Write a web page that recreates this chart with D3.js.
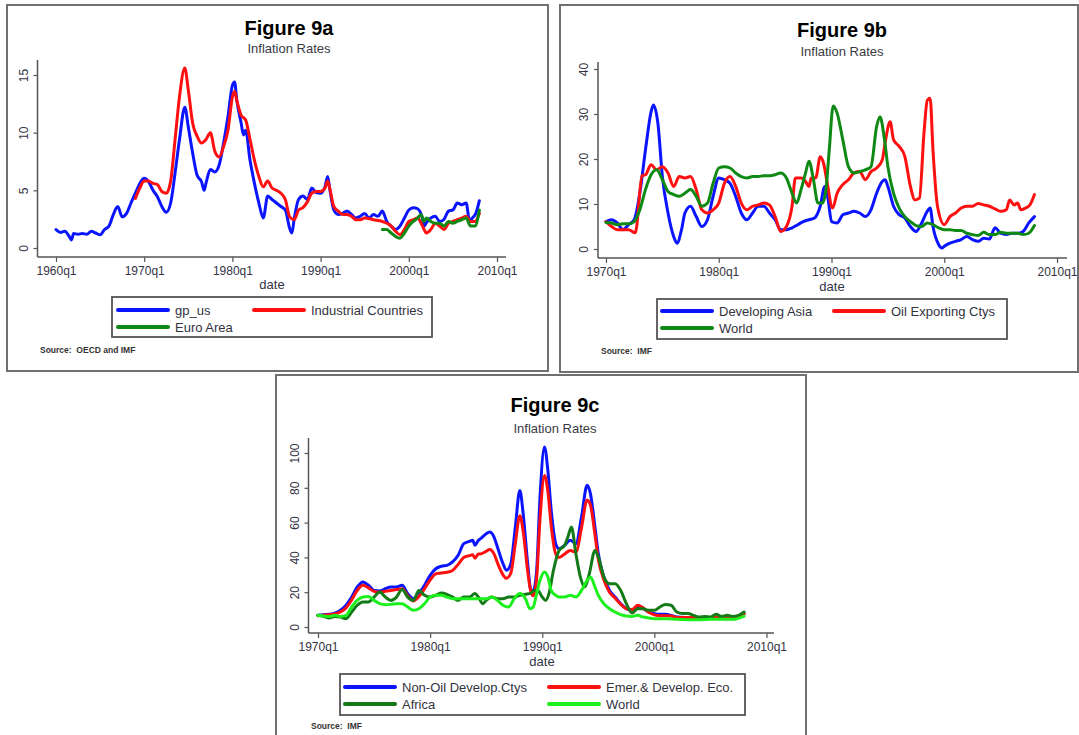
<!DOCTYPE html>
<html>
<head>
<meta charset="utf-8">
<script src="https://cdn.jsdelivr.net/npm/d3@7"></script>
<style>
  body { margin: 0; background: #ffffff; }
  svg { display: block; font-family: Arial, "Liberation Sans", sans-serif; }
</style>
</head>
<body>
<svg id="chart" width="1079" height="735"></svg>
<script>
// ---------- Figure 9a: quarterly inflation rates (date, percent) ----------
const gpUs = [[1960,1.6],[1960.5,1.35],[1961,1.45],[1961.5,1.0],[1961.75,0.7],[1962,1.25],[1962.5,1.2],[1963,1.25],[1963.5,1.2],[1964,1.45],[1964.5,1.3],[1965,1.15],[1965.5,1.6],[1966,1.9],[1966.5,2.9],[1967,3.6],[1967.5,2.7],[1968,3.0],[1968.5,3.9],[1969,4.75],[1969.5,5.6],[1970,6.05],[1970.5,5.75],[1971,5.0],[1971.5,4.45],[1972,3.6],[1972.5,3.1],[1973,3.9],[1973.5,6.5],[1974,9.4],[1974.6,12.2],[1975,10.5],[1975.5,8.2],[1976,6.3],[1976.5,5.75],[1976.8,5.0],[1977,5.6],[1977.5,6.8],[1978,6.6],[1978.5,7.2],[1979,9.1],[1979.5,11.4],[1980,14.1],[1980.25,14.4],[1980.5,12.8],[1981,10.8],[1981.25,9.8],[1981.5,10.2],[1982,7.6],[1982.5,5.6],[1983,3.9],[1983.5,2.6],[1984,4.5],[1984.5,4.2],[1985,3.9],[1985.5,3.6],[1986,3.3],[1986.5,1.7],[1986.75,1.3],[1987,2.5],[1987.5,4.2],[1988,4.5],[1988.5,4.2],[1989,5.2],[1989.5,4.8],[1990,4.75],[1990.5,5.3],[1990.8,6.2],[1991,5.3],[1991.5,3.3],[1992,2.9],[1992.5,3.0],[1993,3.2],[1993.5,2.9],[1994,2.6],[1994.5,2.75],[1995,3.0],[1995.5,2.6],[1996,2.9],[1996.5,2.75],[1997,3.2],[1997.5,2.3],[1998,1.9],[1998.5,1.6],[1999,1.9],[1999.5,2.6],[2000,3.3],[2000.5,3.5],[2001,3.4],[2001.5,2.7],[2001.75,1.9],[2002,2.2],[2002.5,2.6],[2003,2.75],[2003.5,2.3],[2004,2.5],[2004.5,3.2],[2005,3.3],[2005.5,3.9],[2006,3.75],[2006.5,3.9],[2006.9,2.3],[2007.2,2.6],[2007.6,3.0],[2008,4.1]];

const industrialCountries = [[1969,4.3],[1969.5,5.2],[1970,5.8],[1970.5,5.8],[1971,5.6],[1971.5,5.5],[1972,4.9],[1972.5,4.75],[1973,5.8],[1973.5,9.4],[1974,13.1],[1974.6,15.6],[1975,13.7],[1975.5,10.8],[1976,9.7],[1976.5,9.1],[1977,9.4],[1977.5,10.0],[1978,8.4],[1978.5,7.9],[1979,8.8],[1979.5,10.2],[1980,13.1],[1980.25,13.6],[1980.5,12.8],[1981,11.5],[1981.5,11.1],[1982,9.4],[1982.5,7.6],[1983,6.2],[1983.5,5.3],[1984,5.8],[1984.5,5.2],[1985,5.0],[1985.5,4.75],[1986,4.2],[1986.5,2.7],[1987,2.45],[1987.5,3.3],[1988,3.5],[1988.5,4.0],[1989,4.75],[1989.5,4.9],[1990,4.9],[1990.5,5.2],[1990.8,5.8],[1991,5.3],[1991.5,3.6],[1992,3.2],[1992.5,2.9],[1993,2.9],[1993.5,2.75],[1994,2.45],[1994.5,2.45],[1995,2.6],[1996,2.45],[1997,2.3],[1998,1.9],[1998.5,1.45],[1999,1.15],[1999.5,1.6],[2000,2.3],[2000.5,2.45],[2001,2.6],[2001.5,2.0],[2002,1.3],[2002.5,1.6],[2003,2.15],[2003.5,1.9],[2004,1.6],[2004.5,2.15],[2005,2.3],[2005.5,2.45],[2006,2.6],[2006.5,2.75],[2007,2.3],[2007.5,2.3],[2008,3.0]];

const euroArea = [[1997,1.6],[1997.5,1.6],[1998,1.3],[1998.5,1.0],[1999,0.85],[1999.5,1.3],[2000,1.9],[2000.5,2.3],[2001,2.6],[2001.4,2.9],[2001.7,2.3],[2002,2.6],[2002.5,2.3],[2003,2.15],[2003.5,2.15],[2004,1.9],[2004.5,2.3],[2005,2.15],[2005.5,2.3],[2006,2.45],[2006.5,2.6],[2007,1.9],[2007.5,1.9],[2008,3.3]];

// ---------- Figure 9b ----------
const developingAsia = [[1970,6.1],[1970.5,6.5],[1971,5.8],[1971.5,4.3],[1972,5.4],[1972.5,6.5],[1973,12.4],[1973.5,22],[1974,30.5],[1974.2,32],[1974.6,28],[1975,16.1],[1975.5,8],[1976,2.8],[1976.3,1.3],[1976.7,4.3],[1977,8],[1977.5,9.5],[1978,7.2],[1978.5,5],[1979,6.5],[1979.5,11.7],[1980,15.8],[1980.5,15.4],[1981,14.6],[1981.5,11.7],[1982,8],[1982.5,6.5],[1983,8],[1983.5,9.5],[1984,9.5],[1984.5,8],[1985,6.5],[1985.5,4.3],[1986,4.3],[1986.5,4.7],[1987,5.4],[1987.5,6.1],[1988,6.5],[1988.5,6.9],[1989,9.5],[1989.4,13.9],[1989.7,11],[1990,6.1],[1990.5,5.8],[1991,7.6],[1991.5,8],[1992,8.4],[1992.5,8],[1993,7.2],[1993.5,8.7],[1994,12.4],[1994.5,15],[1994.75,15.4],[1995,13.9],[1995.5,9.5],[1996,7.6],[1996.5,6.9],[1997,5],[1997.5,3.9],[1998,5.8],[1998.5,8.4],[1998.75,9.1],[1999,5],[1999.5,1],[1999.8,0.2],[2000,0.6],[2000.5,1.3],[2001,1.7],[2001.5,2.1],[2002,2.8],[2002.5,2.1],[2003,1.7],[2003.5,2.4],[2004,2.2],[2004.5,4.7],[2005,3.5],[2005.5,3.2],[2006,3.5],[2006.5,3.5],[2007,3.9],[2007.5,5.8],[2008,7.2]];

const oilExportingCtys = [[1970,6.1],[1970.5,5],[1971,4.3],[1971.5,4.3],[1972,4.3],[1972.6,3.6],[1973.2,16.3],[1973.5,16.5],[1974,18.7],[1974.5,17.6],[1975,18.3],[1975.5,16.9],[1976,13.9],[1976.5,16.1],[1977,15.8],[1977.5,16.1],[1978,13.2],[1978.5,8.7],[1979,8],[1979.5,8.7],[1980,10.2],[1980.5,14.6],[1981,16.1],[1981.5,13.9],[1982,10.2],[1982.5,8.7],[1983,9.5],[1983.5,9.8],[1984,10.2],[1984.5,9.8],[1985,7.2],[1985.5,3.9],[1986,5],[1986.5,9.5],[1986.8,15.8],[1987.3,15.8],[1987.7,15],[1988,13.9],[1988.2,15.8],[1988.6,15.8],[1989,20.5],[1989.3,19],[1989.6,15],[1990.1,9.1],[1990.5,12.4],[1991,14.3],[1991.5,15.4],[1992,16.9],[1992.5,17.2],[1993,15.4],[1993.5,17.2],[1994,18],[1994.5,19.8],[1994.8,24.3],[1995.2,28.3],[1995.5,24.3],[1996,22.8],[1996.5,20.6],[1997,13.9],[1997.4,10.9],[1997.8,11.3],[1998.2,25.7],[1998.5,33.1],[1998.75,33.5],[1999,22],[1999.4,9.5],[2000,5.4],[2000.5,7.2],[2001,8],[2001.5,9.1],[2002,9.5],[2002.5,9.5],[2003,10.1],[2003.5,9.8],[2004,9.5],[2004.5,8.9],[2005,8.4],[2005.5,8.7],[2005.8,10.9],[2006.2,9.8],[2006.5,10.2],[2006.8,8.7],[2007.2,9.1],[2007.6,9.8],[2008,12.1]];

const worldB = [[1970,5.9],[1970.5,5.8],[1971,5.4],[1971.5,5.6],[1972,5.6],[1972.5,6.1],[1973,8.7],[1973.5,13.2],[1974,16.5],[1974.5,17.6],[1975,15.4],[1975.5,12.8],[1976,12.1],[1976.5,11.7],[1977,12.4],[1977.5,13.2],[1978,11.7],[1978.5,9.5],[1979,10.2],[1979.5,14.6],[1980,18],[1980.5,18.3],[1981,18],[1981.5,16.9],[1982,16.1],[1982.5,15.8],[1983,16.1],[1983.5,16.1],[1984,16.3],[1984.5,16.3],[1985,16.5],[1985.5,16.9],[1986,15.8],[1986.5,12.4],[1986.9,10.2],[1987.3,13.2],[1987.7,16.9],[1988,19.5],[1988.4,15.4],[1988.8,10.2],[1989.2,10.2],[1989.5,13],[1989.8,22],[1990.15,31.8],[1990.5,30.2],[1991,24.3],[1991.5,18.3],[1992,16.9],[1992.5,17.2],[1993,17.6],[1993.5,18.3],[1994,27.2],[1994.3,29.4],[1994.7,24.3],[1995,18.3],[1995.5,12.4],[1996,9.1],[1996.5,7.2],[1997,6.1],[1997.5,5.2],[1998,5],[1998.5,5.8],[1999,5.4],[1999.5,4.7],[2000,4.3],[2000.5,4.3],[2001,4.1],[2001.5,4.1],[2002,3.5],[2002.5,3.2],[2003,3],[2003.5,3.7],[2004,3.2],[2004.5,3.2],[2005,3.7],[2005.5,3.5],[2006,3.5],[2006.5,3.5],[2007,3.2],[2007.5,3.5],[2008,5.2]];

// ---------- Figure 9c ----------
const nonOilDevelop = [[1970,6.7],[1970.5,7.1],[1971,7.3],[1971.5,8],[1972,9.6],[1972.5,12.5],[1973,17.2],[1973.5,23],[1974,25.9],[1974.5,24],[1975,21],[1975.5,20.7],[1976,22],[1976.5,23],[1977,23],[1977.5,24],[1978,19.2],[1978.5,16.3],[1979,19.2],[1979.5,24],[1980,29.7],[1980.5,33.5],[1981,34.9],[1981.5,35.4],[1982,37.4],[1982.5,41.2],[1983,47.9],[1983.5,49.2],[1983.8,49.8],[1984,47],[1984.3,49.8],[1984.5,50.8],[1985,53.6],[1985.3,54.6],[1985.7,51.7],[1986,46],[1986.5,36.4],[1986.8,32.6],[1987.2,36.4],[1987.6,57.5],[1988,78.5],[1988.3,65],[1988.7,36.4],[1989,21],[1989.2,21],[1989.5,32.6],[1989.8,74.7],[1990.2,103.4],[1990.5,90],[1990.8,67],[1991.2,47.9],[1991.5,45],[1992,47],[1992.5,49.8],[1993,47.9],[1993.5,63.2],[1994,81.4],[1994.3,76.6],[1994.7,57.5],[1995,42.1],[1995.5,28.7],[1996,21],[1996.5,17.2],[1997,13.4],[1997.5,10.5],[1998,9.6],[1998.5,11.5],[1999,10.5],[1999.5,8.6],[2000,7.7],[2000.5,7.3],[2001,7.3],[2001.5,6.7],[2002,5.7],[2003,5.4],[2004,5.2],[2005,5.4],[2006,5.2],[2007,5.2],[2007.5,5.4],[2008,7.7]];

const emerDevelopEco = [[1970,6.5],[1970.5,6.8],[1971,7],[1971.5,7.5],[1972,8.6],[1972.5,11],[1973,15.5],[1973.5,21],[1974,24],[1974.5,22.5],[1975,20.5],[1975.5,20],[1976,20.5],[1976.5,21],[1977,21.5],[1977.5,22],[1978,18],[1978.5,15],[1979,17.5],[1979.5,22],[1980,27],[1980.5,30.5],[1981,31],[1981.5,31.5],[1982,32.5],[1982.5,36],[1983,40],[1983.5,41],[1983.8,41.5],[1984,39.5],[1984.3,42],[1984.5,42],[1985,43.5],[1985.3,44.5],[1985.7,42],[1986,37],[1986.5,30],[1986.8,28],[1987.2,31],[1987.6,48],[1988,64],[1988.3,55],[1988.7,32],[1989,20],[1989.2,18],[1989.5,28],[1989.8,62],[1990.2,87],[1990.5,78],[1990.8,58],[1991.2,42],[1991.5,40],[1992,42],[1992.5,44],[1993,43],[1993.5,57],[1994,73],[1994.3,70],[1994.7,53],[1995,39],[1995.5,27],[1996,20],[1996.5,16.5],[1997,13],[1997.5,10.5],[1998,10],[1998.5,12.5],[1999,11],[1999.5,8.5],[2000,7],[2000.5,6.5],[2001,6.5],[2001.5,6.3],[2002,5.5],[2003,5.5],[2004,5.4],[2005,5.5],[2006,5.3],[2007,5.5],[2007.5,5.8],[2008,7.5]];

const africa = [[1970,6.7],[1970.5,6.1],[1971,5.2],[1971.5,6.1],[1972,5.7],[1972.5,4.8],[1973,8.6],[1973.5,12.5],[1974,14.4],[1974.5,14.4],[1975,17.2],[1975.5,20.1],[1976,17.2],[1976.5,15.3],[1977,17.2],[1977.5,21.5],[1978,17.2],[1978.5,15.3],[1979,21],[1979.5,18.2],[1980,17.2],[1980.5,18.2],[1981,19.5],[1981.5,18.8],[1982,17.2],[1982.5,15.3],[1983,17.2],[1983.5,17.2],[1984,19.2],[1984.3,17.2],[1984.7,13.4],[1985,15.3],[1985.5,17.2],[1986,16.3],[1986.5,16.3],[1987,17.2],[1987.5,17.2],[1988,18.2],[1988.5,18.8],[1989,19.5],[1989.3,21],[1989.6,21],[1990,17.2],[1990.3,15.3],[1990.6,19.2],[1991,32.6],[1991.5,44],[1992,47],[1992.3,52],[1992.6,57.5],[1993,42.1],[1993.4,28.7],[1993.8,23],[1994.2,30.7],[1994.7,44],[1995,40.2],[1995.5,28.7],[1996,24.9],[1996.5,24.9],[1997,21],[1997.5,13.4],[1998,8],[1998.5,10.5],[1999,10.5],[1999.5,9.6],[2000,9.6],[2000.5,11.5],[2001,13],[2001.5,12.5],[2002,8.6],[2002.5,7.7],[2003,7.7],[2003.5,6.7],[2004,5.7],[2004.5,6.1],[2005,5.7],[2005.5,7.3],[2006,6.1],[2006.5,6.7],[2007,6.1],[2007.5,6.7],[2008,8.6]];

const worldC = [[1970,6.7],[1970.5,6.3],[1971,6],[1971.5,6.7],[1972,6.1],[1972.5,6.7],[1973,11.5],[1973.5,15.3],[1974,17.2],[1974.5,17.6],[1975,15.3],[1975.5,13.4],[1976,12.8],[1976.5,13],[1977,13.4],[1977.5,13.4],[1978,11.5],[1978.5,9.6],[1979,10.5],[1979.5,13.4],[1980,17.2],[1980.5,18.2],[1981,18.2],[1981.5,17.2],[1982,16.3],[1982.5,16.3],[1983,16.3],[1983.5,16.3],[1984,16.3],[1984.5,16.3],[1985,16.3],[1985.5,17.2],[1986,15.3],[1986.5,12.5],[1987,11.5],[1987.5,16.3],[1988,19.2],[1988.5,16.3],[1988.9,10.5],[1989.2,11.5],[1989.5,19.2],[1989.8,26.8],[1990.2,31.6],[1990.5,28.7],[1990.8,21],[1991.2,18.2],[1991.5,17.2],[1992,17.2],[1992.5,18.2],[1993,17.2],[1993.5,21],[1994,26.8],[1994.3,28.7],[1994.7,23],[1995,18.2],[1995.5,13.4],[1996,10.5],[1996.5,8.6],[1997,7.1],[1997.5,6.3],[1998,6.1],[1998.5,6.7],[1999,5.7],[1999.5,5.2],[2000,4.8],[2001,4.8],[2002,4.4],[2003,4.2],[2004,4.2],[2005,4.4],[2006,4.4],[2007,4.4],[2008,6.3]];

// ---------- axis ticks ----------
const xTicksA = [1960, 1970, 1980, 1990, 2000, 2010];
const xTickLabelsA = ["1960q1", "1970q1", "1980q1", "1990q1", "2000q1", "2010q1"];
const xTicksBC = [1970, 1980, 1990, 2000, 2010];
const xTickLabelsBC = ["1970q1", "1980q1", "1990q1", "2000q1", "2010q1"];
const yTicksA = [0, 5, 10, 15];
const yTicksB = [0, 10, 20, 30, 40];
const yTicksC = [0, 20, 40, 60, 80, 100];

// ---------- legend labels ----------
const seriesNamesA = ["gp_us", "Industrial Countries", "Euro Area"];
const seriesNamesB = ["Developing Asia", "Oil Exporting Ctys", "World"];
const seriesNamesC = ["Non-Oil Develop.Ctys", "Emer.& Develop. Eco.", "Africa", "World"];

const BLUE = "#0a14ff", RED = "#ff1010", GREEN = "#0e8a14", DKGREEN = "#137a17", LTGREEN = "#1cf01c";

const panels = [
  {
    frame: [7, 5, 541, 366], title: "Figure 9a", cx: 289, titleY: 35, subY: 53,
    xDomain: [1960, 2010], xRange: [56, 497], yDomain: [0, 15], yRange: [248, 75],
    axisX: 37.5, axisTop: 60, axisY: 257, axisRight: 506,
    xTicks: xTicksA, xLabels: xTickLabelsA, yTicks: yTicksA,
    dateX: 272, dateY: 289,
    series: [
      { data: gpUs, color: BLUE, name: seriesNamesA[0] },
      { data: industrialCountries, color: RED, name: seriesNamesA[1] },
      { data: euroArea, color: GREEN, name: seriesNamesA[2] }
    ],
    legendBox: [112, 297, 320, 40], legendCols: [118, 254], legendRows: [310, 327],
    source: "Source:  OECD and IMF", sourceX: 40, sourceY: 353
  },
  {
    frame: [560, 5, 518, 367], title: "Figure 9b", cx: 842, titleY: 37, subY: 56,
    xDomain: [1970, 2010], xRange: [606, 1057], yDomain: [0, 40], yRange: [249, 69],
    axisX: 598, axisTop: 62, axisY: 258, axisRight: 1067,
    xTicks: xTicksBC, xLabels: xTickLabelsBC, yTicks: yTicksB,
    dateX: 832, dateY: 291,
    series: [
      { data: developingAsia, color: BLUE, name: seriesNamesB[0] },
      { data: oilExportingCtys, color: RED, name: seriesNamesB[1] },
      { data: worldB, color: GREEN, name: seriesNamesB[2] }
    ],
    legendBox: [657, 299, 350, 40], legendCols: [662, 834], legendRows: [311, 328],
    source: "Source:  IMF", sourceX: 601, sourceY: 354
  },
  {
    frame: [276, 375, 530, 370], title: "Figure 9c", cx: 555, titleY: 412, subY: 433,
    xDomain: [1970, 2010], xRange: [318, 766.5], yDomain: [0, 100], yRange: [627, 453],
    axisX: 308.5, axisTop: 438, axisY: 633, axisRight: 774,
    xTicks: xTicksBC, xLabels: xTickLabelsBC, yTicks: yTicksC,
    dateX: 542, dateY: 666,
    series: [
      { data: nonOilDevelop, color: BLUE, name: seriesNamesC[0] },
      { data: emerDevelopEco, color: RED, name: seriesNamesC[1] },
      { data: africa, color: DKGREEN, name: seriesNamesC[2] },
      { data: worldC, color: LTGREEN, name: seriesNamesC[3] }
    ],
    legendBox: [340, 674, 405, 41], legendCols: [345, 549], legendRows: [687, 704],
    source: "Source:  IMF", sourceX: 311, sourceY: 729
  }
];

const svg = d3.select("#chart");
const AXIS = "#555", LABEL = "#333344";

function drawPanel(p) {
  const g = svg.append("g");

  // panel frame
  g.append("rect")
    .attr("x", p.frame[0]).attr("y", p.frame[1])
    .attr("width", p.frame[2]).attr("height", p.frame[3])
    .attr("fill", "#fff").attr("stroke", "#6f6f6f").attr("stroke-width", 2);

  // titles
  g.append("text").attr("x", p.cx).attr("y", p.titleY)
    .attr("text-anchor", "middle").attr("font-size", 20).attr("font-weight", "bold")
    .attr("fill", "#000").text(p.title);
  g.append("text").attr("x", p.cx).attr("y", p.subY)
    .attr("text-anchor", "middle").attr("font-size", 13).attr("fill", "#3a3a44")
    .text("Inflation Rates");

  const x = d3.scaleLinear().domain(p.xDomain).range(p.xRange);
  const y = d3.scaleLinear().domain(p.yDomain).range(p.yRange);

  // x axis
  const gx = g.append("g").attr("transform", `translate(0,${p.axisY})`)
    .call(d3.axisBottom(x).tickValues(p.xTicks)
      .tickFormat((d, i) => p.xLabels[i]).tickSize(5).tickPadding(4).tickSizeOuter(0));
  gx.select(".domain").remove();
  gx.attr("font-family", null).attr("font-size", 12);
  gx.selectAll(".tick line").attr("stroke", AXIS).attr("stroke-width", 1.2);
  gx.selectAll(".tick text").attr("fill", LABEL);
  g.append("line").attr("x1", p.axisX).attr("x2", p.axisRight)
    .attr("y1", p.axisY).attr("y2", p.axisY)
    .attr("stroke", AXIS).attr("stroke-width", 1.5);

  // y axis with labels turned vertically
  const gy = g.append("g").attr("transform", `translate(${p.axisX},0)`)
    .call(d3.axisLeft(y).tickValues(p.yTicks).tickSize(4).tickSizeOuter(0));
  gy.select(".domain").remove();
  gy.attr("font-family", null).attr("font-size", 12);
  gy.selectAll(".tick line").attr("stroke", AXIS).attr("stroke-width", 1.2);
  gy.selectAll(".tick text")
    .attr("fill", LABEL)
    .attr("transform", "rotate(-90)")
    .attr("x", 0).attr("y", -10).attr("dy", null)
    .attr("text-anchor", "middle");
  g.append("line").attr("x1", p.axisX).attr("x2", p.axisX)
    .attr("y1", p.axisTop).attr("y2", p.axisY)
    .attr("stroke", AXIS).attr("stroke-width", 1.5);

  // axis title
  g.append("text").attr("x", p.dateX).attr("y", p.dateY)
    .attr("text-anchor", "middle").attr("font-size", 13).attr("fill", LABEL)
    .text("date");

  // series lines
  const line = d3.line()
    .x(d => x(d[0])).y(d => y(d[1]))
    .curve(d3.curveMonotoneX);
  p.series.forEach(s => {
    g.append("path").datum(s.data)
      .attr("d", line)
      .attr("fill", "none").attr("stroke", s.color)
      .attr("stroke-width", 3).attr("stroke-linejoin", "round").attr("stroke-linecap", "round");
  });

  // legend
  const lb = p.legendBox;
  g.append("rect").attr("x", lb[0]).attr("y", lb[1]).attr("width", lb[2]).attr("height", lb[3])
    .attr("fill", "#fff").attr("stroke", "#555").attr("stroke-width", 1.8);
  p.series.forEach((s, i) => {
    const cx = p.legendCols[i % 2], cy = p.legendRows[Math.floor(i / 2)];
    g.append("line").attr("x1", cx).attr("x2", cx + 50).attr("y1", cy).attr("y2", cy)
      .attr("stroke", s.color).attr("stroke-width", 4).attr("stroke-linecap", "round");
    g.append("text").attr("x", cx + 57).attr("y", cy + 5)
      .attr("font-size", 13).attr("fill", "#333340").text(s.name);
  });

  // source note
  g.append("text").attr("x", p.sourceX).attr("y", p.sourceY)
    .attr("font-size", 8.5).attr("font-weight", "bold").attr("fill", "#333")
    .attr("xml:space", "preserve").style("white-space", "pre")
    .text(p.source);
}

panels.forEach(drawPanel);
</script>
</body>
</html>
